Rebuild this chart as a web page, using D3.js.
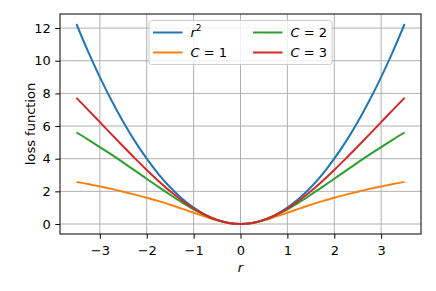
<!DOCTYPE html>
<html>
<head>
<meta charset="utf-8">
<script src="https://cdn.jsdelivr.net/npm/d3@7"></script>
<style>
  html, body { margin: 0; padding: 0; background: #fff; }
  svg { display: block; font-family: "DejaVu Sans", sans-serif; }
</style>
</head>
<body>
<div id="chart"></div>
<script>
// values
const rValues = [-3.5, -3.25, -3, -2.75, -2.5, -2.25, -2, -1.75, -1.5, -1.25, -1, -0.75, -0.5, -0.25, 0,
                 0.25, 0.5, 0.75, 1, 1.25, 1.5, 1.75, 2, 2.25, 2.5, 2.75, 3, 3.25, 3.5];
const squaredLoss = [12.25, 10.56, 9, 7.56, 6.25, 5.06, 4, 3.06, 2.25, 1.56, 1, 0.56, 0.25, 0.06, 0,
                     0.06, 0.25, 0.56, 1, 1.56, 2.25, 3.06, 4, 5.06, 6.25, 7.56, 9, 10.56, 12.25];
const lossC1 = [2.58, 2.45, 2.30, 2.15, 1.98, 1.80, 1.61, 1.40, 1.18, 0.94, 0.69, 0.45, 0.22, 0.06, 0,
                0.06, 0.22, 0.45, 0.69, 0.94, 1.18, 1.40, 1.61, 1.80, 1.98, 2.15, 2.30, 2.45, 2.58];
const lossC2 = [5.61, 5.17, 4.71, 4.25, 3.76, 3.27, 2.77, 2.27, 1.79, 1.32, 0.89, 0.53, 0.24, 0.06, 0,
                0.06, 0.24, 0.53, 0.89, 1.32, 1.79, 2.27, 2.77, 3.27, 3.76, 4.25, 4.71, 5.17, 5.61];
const lossC3 = [7.73, 6.99, 6.24, 5.49, 4.75, 4.02, 3.31, 2.64, 2.01, 1.44, 0.95, 0.55, 0.25, 0.06, 0,
                0.06, 0.25, 0.55, 0.95, 1.44, 2.01, 2.64, 3.31, 4.02, 4.75, 5.49, 6.24, 6.99, 7.73];
const seriesNames = ['r2', 'C = 1', 'C = 2', 'C = 3'];
const seriesColors = ['#1f77b4', '#ff7f0e', '#2ca02c', '#d62728'];
const xTicks = [-3, -2, -1, 0, 1, 2, 3];
const yTicks = [0, 2, 4, 6, 8, 10, 12];

const width = 436, height = 291;
const margin = { left: 60, right: 15, top: 14, bottom: 57 };
const fontSize = 13;

const svg = d3.select('#chart').append('svg')
    .attr('width', width)
    .attr('height', height);

const x = d3.scaleLinear().domain([-3.85, 3.85]).range([margin.left, width - margin.right]);
const y = d3.scaleLinear().domain([-0.6125, 12.8625]).range([height - margin.bottom, margin.top]);

const fmt = d => d < 0 ? '\u2212' + Math.abs(d) : String(d);

// grid
svg.append('g').selectAll('line').data(xTicks).join('line')
    .attr('x1', d => x(d)).attr('x2', d => x(d))
    .attr('y1', margin.top).attr('y2', height - margin.bottom)
    .attr('stroke', '#b0b0b0').attr('stroke-width', 1);
svg.append('g').selectAll('line').data(yTicks).join('line')
    .attr('y1', d => y(d)).attr('y2', d => y(d))
    .attr('x1', margin.left).attr('x2', width - margin.right)
    .attr('stroke', '#b0b0b0').attr('stroke-width', 1);

// axes
const xAxis = svg.append('g')
    .attr('transform', `translate(0,${height - margin.bottom})`)
    .call(d3.axisBottom(x).tickValues(xTicks).tickFormat(fmt).tickSize(4.7).tickPadding(7.5));
const yAxis = svg.append('g')
    .attr('transform', `translate(${margin.left},0)`)
    .call(d3.axisLeft(y).tickValues(yTicks).tickFormat(fmt).tickSize(4.7).tickPadding(4.5));
[xAxis, yAxis].forEach(g => {
    g.select('.domain').remove();
    g.selectAll('text').attr('font-size', fontSize).attr('fill', '#000')
        .attr('font-family', '"DejaVu Sans", sans-serif');
    g.selectAll('line').attr('stroke', '#000').attr('stroke-width', 1);
});

// lines
const line = d3.line()
    .x((d, i) => x(rValues[i]))
    .y(d => y(d))
    .curve(d3.curveMonotoneX);

[squaredLoss, lossC1, lossC2, lossC3].forEach((values, i) => {
    svg.append('path')
        .datum(values)
        .attr('d', line)
        .attr('fill', 'none')
        .attr('stroke', seriesColors[i])
        .attr('stroke-width', 2);
});

// frame
svg.append('rect')
    .attr('x', margin.left).attr('y', margin.top)
    .attr('width', width - margin.left - margin.right)
    .attr('height', height - margin.top - margin.bottom)
    .attr('fill', 'none').attr('stroke', '#000').attr('stroke-width', 1);

// axis labels
svg.append('text')
    .attr('x', x(0)).attr('y', 271.5)
    .attr('text-anchor', 'middle')
    .attr('font-size', fontSize).attr('font-style', 'italic')
    .text('r');
svg.append('text')
    .attr('transform', `translate(34.5,${(margin.top + height - margin.bottom) / 2}) rotate(-90)`)
    .attr('text-anchor', 'middle')
    .attr('font-size', fontSize)
    .text('loss function');

// legend
const legend = svg.append('g');
legend.append('rect')
    .attr('x', 149).attr('y', 20.5).attr('width', 183).attr('height', 44)
    .attr('rx', 2.5)
    .attr('fill', '#fff').attr('fill-opacity', 0.8)
    .attr('stroke', '#cccccc').attr('stroke-width', 1);

const legendItems = legend.selectAll('g.item').data(seriesNames).join('g')
    .attr('class', 'item')
    .attr('transform', (d, i) => `translate(${153 + Math.floor(i / 2) * 100},${32.5 + (i % 2) * 20})`);
legendItems.append('line')
    .attr('x1', 0).attr('x2', 29.5)
    .attr('stroke', (d, i) => seriesColors[i]).attr('stroke-width', 2);
legendItems.each(function (d) {
    const t = d3.select(this).append('text')
        .attr('x', 37.5).attr('y', 4)
        .attr('font-size', fontSize);
    if (d === 'r2') {
        t.append('tspan').attr('font-style', 'italic').text('r');
        t.append('tspan').attr('font-size', fontSize * 0.7).attr('dy', -5.5).text('2');
    } else {
        t.append('tspan').attr('font-style', 'italic').text('C');
        t.append('tspan').text(d.slice(1));
    }
});
</script>
</body>
</html>
